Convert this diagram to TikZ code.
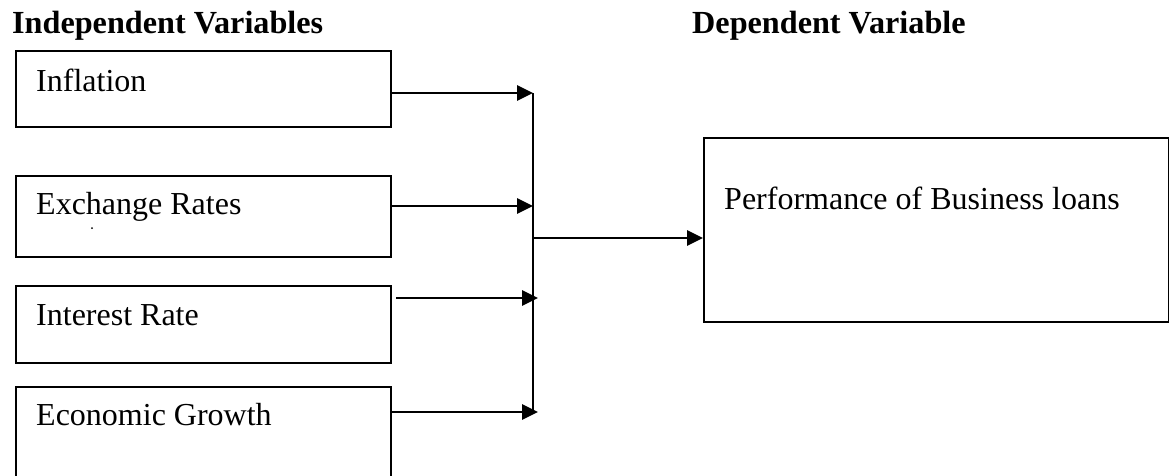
\documentclass[tikz,border=0pt]{standalone}
\usepackage{fontspec}
\setmainfont{Liberation Serif}
\usetikzlibrary{arrows.meta}
\begin{document}
\begin{tikzpicture}[x=1pt,y=-1pt,
  every node/.style={font=\fontsize{32}{38}\selectfont, inner sep=0pt},
  varbox/.style={draw, line width=2.2pt, anchor=north west, minimum width=#1},
  varbox/.default=375pt,
  caption/.style={anchor=base west},
  heading/.style={anchor=base west, font=\fontsize{32.2}{38}\selectfont\bfseries},
  arr/.style={line width=2.8pt, -{Triangle[length=16pt,width=15pt]}},
  bus/.style={line width=2pt}]
\useasboundingbox (0,0) rectangle (1169,475);
\clip (0,0) rectangle (1169,475);

% headings
\node[heading] (hind) at (12,33) {Independent Variables};
\node[heading] (hdep) at (692,33) {Dependent Variable};

% independent variable boxes
\node[varbox, minimum height=76pt]  (infl) at (15,50)  {};
\node[varbox, minimum height=81pt]  (exch) at (15,175) {};
\node[varbox, minimum height=77pt]  (intr) at (15,285) {};
\node[varbox, minimum height=110pt] (econ) at (15,386) {};

\node[caption] (tinfl) at (36,91)  {Inflation};
\node[caption] (texch) at (36,214) {Exchange Rates};
\node[caption] (tintr) at (36,325) {Interest Rate};
\node[caption] (tecon) at (36,425) {Economic Growth};
\fill (92,228) circle (1pt);

% dependent variable box
\node[varbox=465pt, minimum height=184pt] (perf) at (703,137) {};
\node[caption] (tperf) at (724,209) {Performance of Business loans};

% collecting bus
\coordinate (j1) at (533,93);
\coordinate (j2) at (533,206);
\coordinate (j3) at (538,298);
\coordinate (j4) at (538,412);
\coordinate (jout) at (533,238);
\coordinate (busbot) at (533,412);

\draw[bus] (j1) -- (busbot);
\draw[arr] (infl.east |- j1) -- (j1);
\draw[arr] (exch.east |- j2) -- (j2);
\draw[arr] (396,298) -- (j3);
\draw[arr] (econ.east |- j4) -- (j4);
\draw[arr] (jout) -- (perf.west |- jout);
\end{tikzpicture}
\end{document}
